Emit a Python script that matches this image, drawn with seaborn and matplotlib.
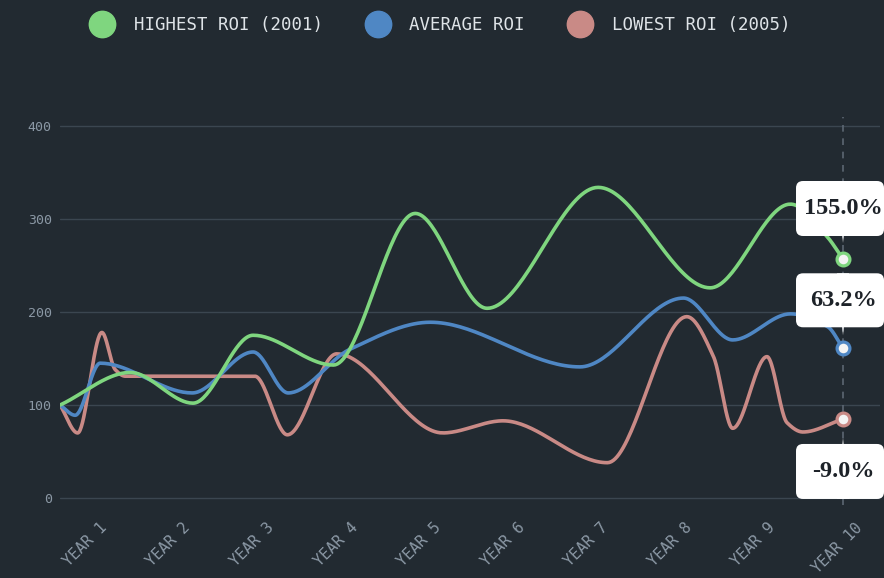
import numpy as np
import matplotlib
matplotlib.use("Agg")
import matplotlib.pyplot as plt
import seaborn as sns
from matplotlib.lines import Line2D
from matplotlib.patches import FancyBboxPatch, Polygon
from matplotlib.transforms import ScaledTranslation

# values (x in years, y = ROI index)
year_labels = ["YEAR 1", "YEAR 2", "YEAR 3", "YEAR 4", "YEAR 5",
               "YEAR 6", "YEAR 7", "YEAR 8", "YEAR 9", "YEAR 10"]
year_ticks = [1, 2, 3, 4, 5, 6, 7, 8, 9, 10]

high_x = [0.63, 1.47, 2.22, 2.94, 3.90, 4.88, 5.74, 7.07, 8.41, 9.37, 9.81, 10.0]
high_y = [100, 135, 102, 175, 143, 306, 204, 334, 226, 316, 281, 257]

avg_x = [0.63, 0.81, 1.11, 2.21, 2.94, 3.36, 4.10, 5.06, 6.85, 8.09, 8.68, 9.37,
         9.82, 10.0]
avg_y = [100, 89, 145, 113, 157, 113, 160, 189, 141, 215, 170, 198,
         184, 161]

low_x = [0.63, 0.84, 1.13, 1.29, 1.41, 2.96, 3.35, 3.94, 5.21, 5.93,
         7.18, 8.13, 8.45, 8.68, 9.09, 9.33, 9.52, 10.0]
low_y = [100, 70, 178, 138, 131, 131, 68, 155, 70, 83,
         38, 195, 152, 75, 152, 81, 71, 85]

series_names = ["HIGHEST ROI (2001)", "AVERAGE ROI", "LOWEST ROI (2005)"]
end_labels = ["155.0%", "63.2%", "-9.0%"]
colors = ["#7fd67f", "#4f87c4", "#c98a86"]

BG = "#222a31"


def smooth(xs, ys, n=40):
    # monotone cubic curve through the points (like a chart "monotone" line)
    x = np.asarray(xs, float)
    y = np.asarray(ys, float)
    h = np.diff(x)
    d = np.diff(y) / h
    m = np.empty_like(y)
    m[0], m[-1] = d[0], d[-1]
    for k in range(1, len(x) - 1):
        if d[k - 1] * d[k] <= 0:
            m[k] = 0
        else:
            w1 = 2 * h[k] + h[k - 1]
            w2 = h[k] + 2 * h[k - 1]
            m[k] = (w1 + w2) / (w1 / d[k - 1] + w2 / d[k])
    t = np.linspace(0, 1, n, endpoint=False)
    h00 = 2 * t**3 - 3 * t**2 + 1
    h10 = t**3 - 2 * t**2 + t
    h01 = -2 * t**3 + 3 * t**2
    h11 = t**3 - t**2
    px, py = [], []
    for k in range(len(x) - 1):
        px.append(x[k] + t * h[k])
        py.append(h00 * y[k] + h10 * h[k] * m[k] + h01 * y[k + 1] + h11 * h[k] * m[k + 1])
    px.append([x[-1]])
    py.append([y[-1]])
    return np.concatenate(px), np.concatenate(py)


sns.set_theme(style="dark")
plt.rcParams["font.family"] = ["DejaVu Sans Mono"]

fig = plt.figure(figsize=(8.84, 5.78), dpi=100, facecolor=BG)
ax = fig.add_axes([0.0679, 0.1263, 0.9276, 0.6713])
ax.set_facecolor(BG)

all_x = [high_x, avg_x, low_x]
all_y = [high_y, avg_y, low_y]

# draw lowest first so highest ends up on top
for i in [2, 1, 0]:
    sx, sy = smooth(all_x[i], all_y[i])
    sns.lineplot(x=sx, y=sy, ax=ax, color=colors[i], lw=2.6, sort=False,
                 estimator=None, legend=False, zorder=3 + (2 - i))

ax.axvline(10, color="#5c6773", lw=1.2, ls=(0, (4, 4)), zorder=1)

for i in range(3):
    sns.scatterplot(x=[all_x[i][-1]], y=[all_y[i][-1]], ax=ax, s=85,
                    color="#f4f4f4", edgecolor=colors[i], linewidth=2.3,
                    zorder=8, legend=False)

# callout boxes (pixel offsets from the end point)
box_dy = [(23, 78, 16), (21, 75, 13), (-80, -25, -19)]
for i in range(3):
    trans = fig.dpi_scale_trans + ScaledTranslation(all_x[i][-1], all_y[i][-1], ax.transData)
    lo, hi, tip = [v / 100 for v in box_dy[i]]
    box = FancyBboxPatch((-0.47, lo), 0.88, hi - lo,
                         boxstyle="round,pad=0,rounding_size=0.07",
                         fc="white", ec="none", transform=trans, clip_on=False, zorder=9)
    ax.add_patch(box)
    edge = hi if tip > 0 else lo
    pointer = Polygon([(-0.06, edge), (0.06, edge), (0, tip)], closed=True,
                      fc="white", ec="none", transform=trans, clip_on=False, zorder=9)
    ax.add_patch(pointer)
    ax.text(0.0, (lo + hi) / 2, end_labels[i], transform=trans, ha="center",
            va="center", family="Liberation Serif", weight="bold", size=17.5,
            color="#1d2228", zorder=10, clip_on=False)

ax.set_xlim(0.629, 10.443)
ax.set_ylim(-7.5, 409.7)
ax.set_yticks([0, 100, 200, 300, 400])
ax.set_xticks(year_ticks)
ax.set_xticklabels(year_labels, rotation=45, ha="center")
ax.tick_params(axis="y", length=0, pad=6, labelsize=9.5, labelcolor="#8b98a5")
ax.tick_params(axis="x", length=0, pad=11, labelsize=11, labelcolor="#8b98a5")
for lab in ax.get_xticklabels():
    lab.set_transform(lab.get_transform() + ScaledTranslation(-0.06, 0, fig.dpi_scale_trans))

ax.grid(axis="y", color="#3b4650", lw=1)
ax.grid(axis="x", visible=False)
ax.set_xlabel("")
ax.set_ylabel("")
for s in ax.spines.values():
    s.set_visible(False)

handles = [Line2D([0], [0], marker="o", ls="", markersize=19, color=c) for c in colors]
fig.legend(handles, series_names, loc="center", bbox_to_anchor=(0.497, 0.957), ncol=3,
           frameon=False, handlelength=1.6, handletextpad=1.0, columnspacing=2.4,
           labelcolor="#dfe4e8", prop={"family": "DejaVu Sans Mono", "size": 12.5})

fig.savefig("out.png", dpi=100, facecolor=BG)
